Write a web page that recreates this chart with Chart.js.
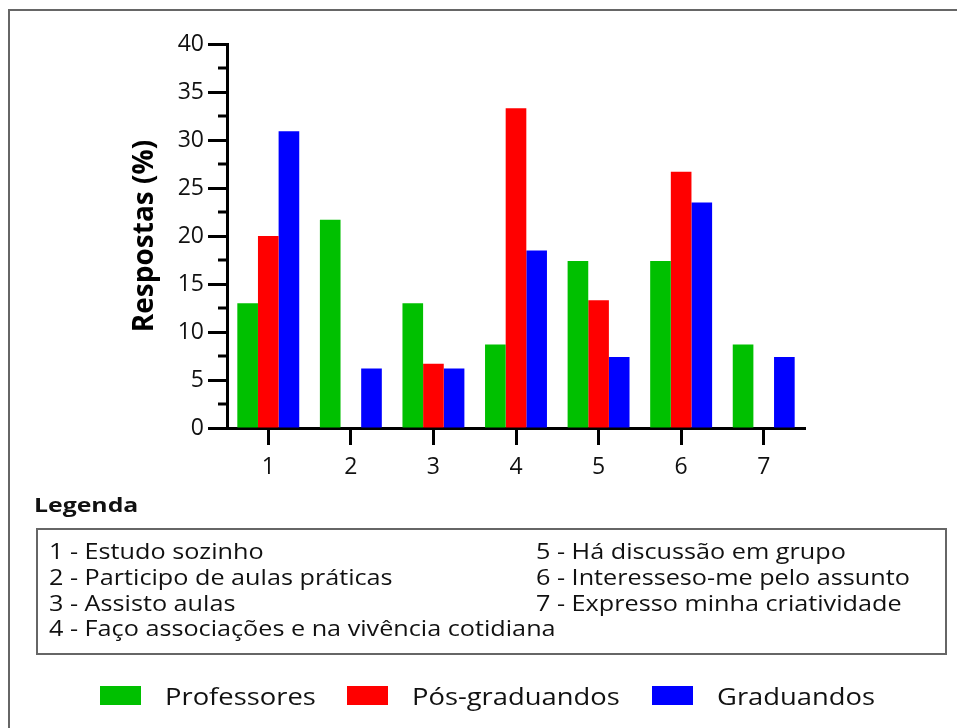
<!DOCTYPE html>
<html>
<head>
<meta charset="utf-8">
<script src="https://cdn.jsdelivr.net/npm/chart.js@4"></script>
<style>
  body { margin: 0; background: #fff; font-family: "Open Sans", sans-serif; color: #111; }
  #wrap { position: relative; width: 957px; height: 728px; overflow: hidden; }
  #frame { position: absolute; left: 8px; top: 9px; width: 1000px; height: 800px;
           border-left: 2px solid #666; border-top: 2px solid #666; }
  canvas { position: absolute; left: 0; top: 0; }
  #legTitle { position: absolute; left: 34px; top: 491px; font-weight: 700; font-size: 20px;
              transform: scaleX(1.24); transform-origin: 0 0; }
  #legBox { position: absolute; left: 36px; top: 528px; width: 907px; height: 123px;
            border: 2px solid #666; }
  .legItem { position: absolute; font-size: 21px; white-space: nowrap; line-height: 24px;
             transform: scaleX(1.2); transform-origin: 0 0; }
  .serItem { position: absolute; top: 682px; font-size: 24px; line-height: 28px; white-space: nowrap; }
  .serItem span.box { position: absolute; top: 4px; width: 41px; height: 19px; }
  .serItem span.txt { position: absolute; left: 65px; top: 0; transform: scaleX(1.14); transform-origin: 0 0; }
</style>
</head>
<body>
<div id="wrap">
  <div id="frame"></div>
  <canvas id="myChart" width="957" height="728"></canvas>
  <div id="legTitle">Legenda</div>
  <div id="legBox"></div>
  <div id="serLegend"></div>
</div>
<script>
const categories = ["1", "2", "3", "4", "5", "6", "7"];
const descriptions = [
  "Estudo sozinho",
  "Participo de aulas práticas",
  "Assisto aulas",
  "Faço associações e na vivência cotidiana",
  "Há discussão em grupo",
  "Interesseso-me pelo assunto",
  "Expresso minha criatividade",
];
const seriesNames = ["Professores", "Pós-graduandos", "Graduandos"];
const professores = [13.0, 21.7, 13.0, 8.7, 17.4, 17.4, 8.7];
const posGraduandos = [20.0, 0, 6.7, 33.3, 13.3, 26.7, 0];
const graduandos = [30.9, 6.2, 6.2, 18.5, 7.4, 23.5, 7.4];
const seriesColors = ["#00c000", "#ff0000", "#0000ff"];

const fontFamily = '"Open Sans", sans-serif';

// small ticks between the labelled ones
const minorTicks = {
  id: "minorTicks",
  afterDraw(chart) {
    const y = chart.scales.y;
    const c = chart.ctx;
    c.save();
    c.strokeStyle = "#000";
    c.lineWidth = 3;
    for (let v = y.min + 2.5; v < y.max; v += 5) {
      const py = Math.round(y.getPixelForValue(v));
      c.beginPath();
      c.moveTo(y.right - 9, py);
      c.lineTo(y.right, py);
      c.stroke();
    }
    c.restore();
  },
};

const ctx = document.getElementById("myChart").getContext("2d");
const myChart = new Chart(ctx, {
  type: "bar",
  data: {
    labels: categories,
    datasets: [
      { label: seriesNames[0], data: professores, backgroundColor: seriesColors[0] },
      { label: seriesNames[1], data: posGraduandos, backgroundColor: seriesColors[1] },
      { label: seriesNames[2], data: graduandos, backgroundColor: seriesColors[2] },
    ],
  },
  options: {
    responsive: false,
    animation: false,
    layout: { padding: { left: 0, top: 44, right: 152, bottom: 0 } },
    datasets: {
      bar: { categoryPercentage: 0.75, barPercentage: 1.0, borderWidth: 0 },
    },
    plugins: {
      legend: { display: false },
      tooltip: { enabled: false },
    },
    scales: {
      x: {
        grid: { offset: false, drawOnChartArea: false, tickLength: 17, tickWidth: 3, tickColor: "#000" },
        border: { display: true, color: "#000", width: 3 },
        ticks: { color: "#111", font: { family: fontFamily, size: 23 }, padding: 9 },
        afterFit(axis) { axis.height = 300; },
      },
      y: {
        min: 0,
        max: 40,
        ticks: { stepSize: 5, color: "#111", font: { family: fontFamily, size: 23 }, padding: 4 },
        grid: { drawOnChartArea: false, tickLength: 19, tickWidth: 3, tickColor: "#000" },
        border: { display: true, color: "#000", width: 3 },
        title: {
          display: true,
          text: "Respostas (%)",
          color: "#000",
          font: { family: fontFamily, size: 28, weight: "bold" },
          padding: { top: 128, bottom: 0 },
        },
        afterFit(axis) { axis.width = 227; },
      },
    },
  },
  plugins: [minorTicks],
});

// text legend for the category numbers
const legBox = document.getElementById("legBox");
const colX = [11, 498];
const rowY = [9, 35, 61, 86];
descriptions.forEach((d, i) => {
  const el = document.createElement("div");
  el.className = "legItem";
  const col = i < 4 ? 0 : 1;
  const row = i < 4 ? i : i - 4;
  el.style.left = colX[col] + "px";
  el.style.top = rowY[row] + "px";
  el.textContent = categories[i] + " - " + d;
  legBox.appendChild(el);
});

// series legend at the bottom
const serLegend = document.getElementById("serLegend");
const itemX = [100, 347, 652];
myChart.data.datasets.forEach((ds, i) => {
  const el = document.createElement("div");
  el.className = "serItem";
  el.style.left = itemX[i] + "px";
  el.innerHTML = '<span class="box"></span><span class="txt"></span>';
  el.children[0].style.background = ds.backgroundColor;
  el.children[1].textContent = ds.label;
  serLegend.appendChild(el);
});
</script>
</body>
</html>
